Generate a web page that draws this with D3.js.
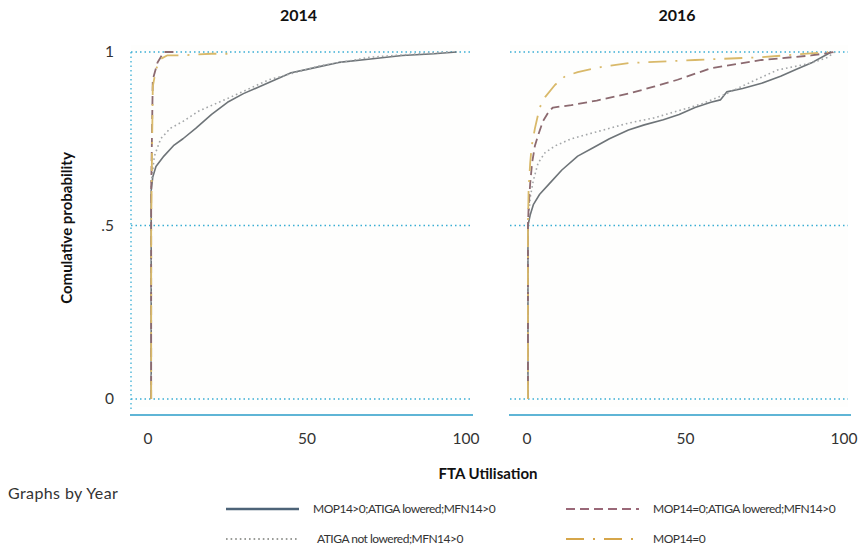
<!DOCTYPE html>
<html>
<head>
<meta charset="utf-8">
<script src="https://cdn.jsdelivr.net/npm/d3@7"></script>
<style>
  html, body { margin: 0; padding: 0; background: #fff; }
  svg { display: block; font-family: Lato, "Open Sans", sans-serif; }
</style>
</head>
<body>
<svg id="chart" width="860" height="555"></svg>
<script>
// Panels (one per year)
const years = ["2014", "2016"];

// Series names, in legend order
const seriesNames = [
  "MOP14>0;ATIGA lowered;MFN14>0",
  "ATIGA not lowered;MFN14>0",
  "MOP14=0;ATIGA lowered;MFN14>0",
  "MOP14=0"
];

// Axis ticks
const xTicks = [0, 50, 100];
const yTicks = [0, 0.5, 1];
const yTickLabels = ["0", ".5", "1"];

// Cumulative distributions of FTA utilisation, [utilisation, cumulative probability]
const cdf2014_lowered = [[1,0],[1,0.60],[1.5,0.64],[2.5,0.67],[5,0.70],[8,0.73],[11,0.75],[15,0.78],[20,0.82],[25,0.855],[30,0.88],[35,0.90],[40,0.92],[45,0.94],[50,0.95],[55,0.96],[60,0.97],[70,0.98],[80,0.99],[90,0.995],[97,1]];
const cdf2014_notLowered = [[1,0],[1,0.62],[2,0.70],[4,0.75],[7,0.78],[11,0.80],[16,0.83],[26,0.87],[38,0.92],[54,0.96],[70,0.985],[85,0.995],[95,1]];
const cdf2014_mop0Lowered = [[1,0],[1,0.60],[1.5,0.92],[3,0.97],[5,1],[8,1]];
const cdf2014_mop0 = [[1,0],[1,0.5],[1.5,0.9],[2.5,0.95],[4,0.98],[6,0.99],[10,0.99],[20,0.995],[27,0.995]];

const cdf2016_lowered = [[0.3,0],[0.3,0.5],[1,0.53],[2,0.56],[4,0.59],[7,0.62],[11,0.66],[16,0.70],[21,0.725],[26,0.75],[32,0.775],[37,0.79],[43,0.805],[48,0.82],[53,0.84],[58,0.855],[61,0.862],[63,0.885],[68,0.895],[74,0.91],[80,0.93],[85,0.95],[90,0.97],[94,0.99],[96,1]];
const cdf2016_notLowered = [[0.3,0],[0.3,0.5],[1,0.58],[2,0.63],[3.5,0.68],[5.7,0.71],[9,0.73],[14,0.75],[22,0.77],[32,0.795],[40,0.81],[47.5,0.83],[55,0.85],[63,0.88],[71,0.915],[79,0.948],[89.6,0.968],[95,0.985],[97,1]];
const cdf2016_mop0Lowered = [[0.3,0],[0.3,0.5],[0.5,0.55],[1,0.62],[1.6,0.68],[2.5,0.73],[3.5,0.76],[5,0.80],[7,0.83],[8.2,0.84],[14,0.847],[22,0.86],[32,0.88],[40,0.90],[47.5,0.92],[58,0.953],[66,0.965],[74,0.977],[89.6,0.99],[97,1]];
const cdf2016_mop0 = [[0.3,0],[0.3,0.5],[0.5,0.6],[1,0.68],[1.5,0.73],[2.5,0.78],[4,0.84],[5.7,0.87],[8.8,0.905],[12,0.93],[16,0.942],[24,0.958],[32,0.968],[53,0.977],[74,0.985],[95,1]];

const panelData = [
  [cdf2014_lowered, cdf2014_notLowered, cdf2014_mop0Lowered, cdf2014_mop0],
  [cdf2016_lowered, cdf2016_notLowered, cdf2016_mop0Lowered, cdf2016_mop0]
];

// Line styles per series
const styles = [
  { stroke: "#6e7478", legendStroke: "#4d6378", dash: null, width: 1.6 },
  { stroke: "#a3a6a8", legendStroke: "#9a9c98", dash: "1.6,3", width: 1.6 },
  { stroke: "#8c6a70", legendStroke: "#9a6878", dash: "9,5", width: 1.8 },
  { stroke: "#d9b96a", legendStroke: "#d6a64a", dash: "18,9,2,9", width: 1.8 }
];

const gridColor = "#3aaed4";
const svg = d3.select("#chart");

const panels = [
  { x0: 131, x1: 470 },
  { x0: 510, x1: 848 }
];
const y = d3.scaleLinear().domain([0, 1]).range([399, 52]);

panels.forEach((p, i) => {
  const x = d3.scaleLinear().domain([0, 100]).range([p.x0 + 17, p.x1 - 4]);
  const g = svg.append("g");

  // faint panel backdrop
  g.append("rect")
    .attr("x", p.x0).attr("y", 45)
    .attr("width", p.x1 - p.x0).attr("height", 362)
    .attr("fill", "#fefefd");

  // horizontal dotted gridlines
  g.selectAll("line.grid").data(yTicks).join("line")
    .attr("class", "grid")
    .attr("x1", p.x0).attr("x2", p.x1)
    .attr("y1", d => y(d)).attr("y2", d => y(d))
    .attr("stroke", gridColor).attr("stroke-width", 1.3)
    .attr("stroke-dasharray", "1.5,3");

  // solid baseline under the panel
  g.append("line")
    .attr("x1", p.x0 - 1).attr("x2", p.x1 + 3)
    .attr("y1", 415).attr("y2", 415)
    .attr("stroke", "#2a9cc8").attr("stroke-width", 1.5);

  // x-axis tick labels
  g.selectAll("text.xt").data(xTicks).join("text")
    .attr("class", "xt")
    .attr("x", d => x(d)).attr("y", 444)
    .attr("text-anchor", "middle")
    .attr("font-size", 15.5).attr("fill", "#333")
    .text(d => d);

  // panel title
  g.append("text")
    .attr("x", (p.x0 + p.x1) / 2 - 2).attr("y", 21)
    .attr("text-anchor", "middle")
    .attr("font-size", 16).attr("font-weight", "bold").attr("fill", "#111")
    .text(years[i]);

  // CDF curves
  const line = d3.line().x(d => x(d[0])).y(d => y(d[1]));
  panelData[i].forEach((data, s) => {
    g.append("path")
      .datum(data)
      .attr("d", line)
      .attr("fill", "none")
      .attr("stroke", styles[s].stroke)
      .attr("stroke-width", styles[s].width)
      .attr("stroke-dasharray", styles[s].dash)
      .attr("stroke-linejoin", "round");
  });
});

// y axis: dotted vertical line on the first panel
svg.append("line")
  .attr("x1", 131).attr("x2", 131)
  .attr("y1", 52).attr("y2", 412)
  .attr("stroke", gridColor).attr("stroke-width", 1.3)
  .attr("stroke-dasharray", "1.5,3");

svg.selectAll("text.yt").data(yTicks).join("text")
  .attr("class", "yt")
  .attr("x", 114).attr("y", d => y(d) + 5)
  .attr("text-anchor", "end")
  .attr("font-size", 15.5).attr("fill", "#333")
  .text((d, i) => yTickLabels[i]);

// axis titles
svg.append("text")
  .attr("transform", "translate(72,228) rotate(-90)")
  .attr("text-anchor", "middle")
  .attr("font-size", 15).attr("font-weight", "bold").attr("fill", "#111")
  .text("Comulative probability");

svg.append("text")
  .attr("x", 488).attr("y", 479)
  .attr("text-anchor", "middle")
  .attr("font-size", 15).attr("font-weight", "bold").attr("fill", "#111")
  .text("FTA Utilisation");

svg.append("text")
  .attr("x", 8).attr("y", 499)
  .attr("font-size", 16).attr("letter-spacing", 0.4).attr("fill", "#333")
  .text("Graphs by Year");

// legend
const legendPos = [
  { x: 226, y: 509 },
  { x: 226, y: 539 },
  { x: 566, y: 509 },
  { x: 566, y: 539 }
];
seriesNames.forEach((name, s) => {
  const lp = legendPos[s];
  svg.append("line")
    .attr("x1", lp.x).attr("x2", lp.x + 73)
    .attr("y1", lp.y).attr("y2", lp.y)
    .attr("stroke", styles[s].legendStroke)
    .attr("stroke-width", s === 0 ? 2.5 : 2.2)
    .attr("stroke-dasharray", styles[s].dash);
  svg.append("text")
    .attr("x", lp.x + (s === 1 ? 91 : 87)).attr("y", lp.y + 4)
    .attr("font-size", 12).attr("letter-spacing", -0.5).attr("fill", "#333")
    .text(name);
});
</script>
</body>
</html>
